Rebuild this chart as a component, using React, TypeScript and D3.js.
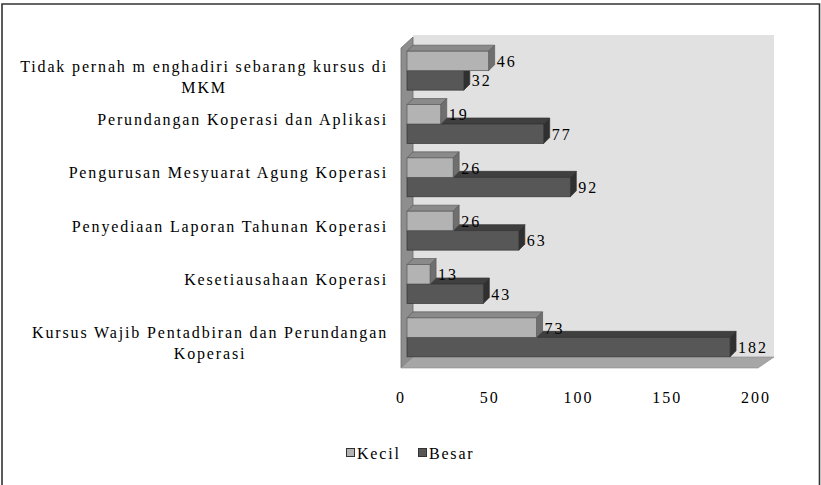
import React, { useEffect, useRef } from "react";
import * as d3 from "d3";

const CATEGORIES = [
  "Tidak pernah m enghadiri sebarang kursus di\nMKM",
  "Perundangan Koperasi dan Aplikasi",
  "Pengurusan Mesyuarat Agung Koperasi",
  "Penyediaan Laporan Tahunan Koperasi",
  "Kesetiausahaan Koperasi",
  "Kursus Wajib Pentadbiran dan Perundangan\nKoperasi",
];
const KECIL = [46, 19, 26, 26, 13, 73];
const BESAR = [32, 77, 92, 63, 43, 182];
const SERIES = ["Kecil", "Besar"];
const TICKS = [0, 50, 100, 150, 200];

const W = 821;
const H = 485;
const FONT = "Liberation Serif, DejaVu Serif, serif";
const FACE = { Kecil: "#b3b3b3", Besar: "#575757" };
const TOP = { Kecil: "#8a8a8a", Besar: "#3f3f3f" };
const SIDE = { Kecil: "#6f6f6f", Besar: "#303030" };
const EDGE = { Kecil: "#5a5a5a", Besar: "#333333" };

const App = () => {
  const ref = useRef<SVGSVGElement>(null);

  useEffect(() => {
    const svg = d3.select(ref.current);
    svg.selectAll("*").remove();

    // frame
    svg
      .append("path")
      .attr("d", `M2,${H} L2,4 L819.5,4 L819.5,${H}`)
      .attr("fill", "none")
      .attr("stroke", "#333")
      .attr("stroke-width", 1.6);

    const x = d3.scaleLinear().domain([0, 200]).range([407, 762]);
    const y = d3.scaleBand().domain(CATEGORIES).range([44, 364]).paddingInner(0.27).paddingOuter(0.135);
    const sub = d3.scaleBand().domain(SERIES).range([0, y.bandwidth()]);

    const back = { l: 413, r: 774, t: 35, b: 357 };
    const dx = 12;
    const dy = 11;

    // back wall, side wall, floor
    svg.append("rect").attr("x", back.l).attr("y", back.t).attr("width", back.r - back.l).attr("height", back.b - back.t).attr("fill", "#e1e1e1");
    svg
      .append("polygon")
      .attr("points", [[back.l - dx, back.t + 13], [back.l, back.t + 2], [back.l, back.b], [back.l - dx, back.b + dy]].join(" "))
      .attr("fill", "#8e8e8e")
      .attr("stroke", "#6a6a6a")
      .attr("stroke-width", 0.8);
    svg
      .append("polygon")
      .attr("points", [[back.l - dx, back.b + dy], [back.l, back.b], [back.r, back.b], [back.r - 16, back.b + dy]].join(" "))
      .attr("fill", "#a6a6a6")
      .attr("stroke", "#8a8a8a")
      .attr("stroke-width", 0.6);

    // bars, drawn bottom-up so upper bars sit in front of lower top faces
    const d = 6;
    const rows = CATEGORIES.flatMap((c, i) => [
      { c, s: "Kecil", v: KECIL[i] },
      { c, s: "Besar", v: BESAR[i] },
    ]);
    const g = svg.append("g");
    rows
      .slice()
      .reverse()
      .forEach((r) => {
        const x0 = x(0);
        const x1 = x(r.v);
        const y0 = (y(r.c) as number) + (sub(r.s) as number);
        const h = sub.bandwidth();
        const bar = g.append("g");
        bar
          .append("polygon")
          .attr("points", [[x0, y0], [x1, y0], [x1 + d, y0 - d], [x0 + d, y0 - d]].join(" "))
          .attr("fill", TOP[r.s])
          .attr("stroke", EDGE[r.s])
          .attr("stroke-width", 0.7);
        bar
          .append("polygon")
          .attr("points", [[x1, y0], [x1 + d, y0 - d], [x1 + d, y0 + h - d], [x1, y0 + h]].join(" "))
          .attr("fill", SIDE[r.s])
          .attr("stroke", EDGE[r.s])
          .attr("stroke-width", 0.7);
        bar
          .append("rect")
          .attr("x", x0)
          .attr("y", y0)
          .attr("width", x1 - x0)
          .attr("height", h)
          .attr("fill", FACE[r.s])
          .attr("stroke", EDGE[r.s])
          .attr("stroke-width", 0.7);
      });

    // value labels
    svg
      .append("g")
      .selectAll("text")
      .data(rows)
      .join("text")
      .attr("x", (r) => x(r.v) + d + 2)
      .attr("y", (r) => (y(r.c) as number) + (sub(r.s) as number) + sub.bandwidth() / 2 + 6)
      .style("font-family", FONT)
      .style("font-size", "16px")
      .style("letter-spacing", "2px")
      .attr("fill", "#000")
      .text((r) => r.v);

    // category labels
    CATEGORIES.forEach((c) => {
      const lines = c.split("\n");
      const cy = (y(c) as number) + y.bandwidth() / 2;
      const t = svg
        .append("text")
        .style("font-family", FONT)
        .style("font-size", "16px")
        .style("letter-spacing", "1.85px")
        .attr("fill", "#000")
        .attr("text-anchor", "middle");
      const spans = lines.map((ln, k) =>
        t.append("tspan").attr("y", cy + 1 + k * 21).text(ln)
      );
      const widths = spans.map((s) => (s.node() as SVGTSpanElement).getComputedTextLength());
      const wMax = d3.max(widths) as number;
      spans.forEach((s) => s.attr("x", 388 - wMax / 2));
    });

    // x tick labels
    svg
      .append("g")
      .selectAll("text")
      .data(TICKS)
      .join("text")
      .attr("x", (v) => x(v) - 6)
      .attr("y", 403)
      .attr("text-anchor", "middle")
      .style("font-family", FONT)
      .style("font-size", "16px")
      .style("letter-spacing", "2px")
      .attr("fill", "#000")
      .text((v) => v);

    // legend
    const leg = svg.append("g");
    const legX = [346, 418];
    SERIES.forEach((s, i) => {
      leg
        .append("rect")
        .attr("x", legX[i] + 0.5)
        .attr("y", 448.5)
        .attr("width", 8)
        .attr("height", 8)
        .attr("fill", FACE[s])
        .attr("stroke", "#333")
        .attr("stroke-width", 1);
      leg
        .append("text")
        .attr("x", legX[i] + 11)
        .attr("y", 459)
        .style("font-family", FONT)
        .style("font-size", "16px")
        .style("letter-spacing", "1.8px")
        .attr("fill", "#000")
        .text(s);
    });
  }, []);

  return (
    <svg
      ref={ref}
      width={W}
      height={H}
      style={{ position: "fixed", left: 0, top: 0, background: "#fff" }}
    />
  );
};

export default App;
